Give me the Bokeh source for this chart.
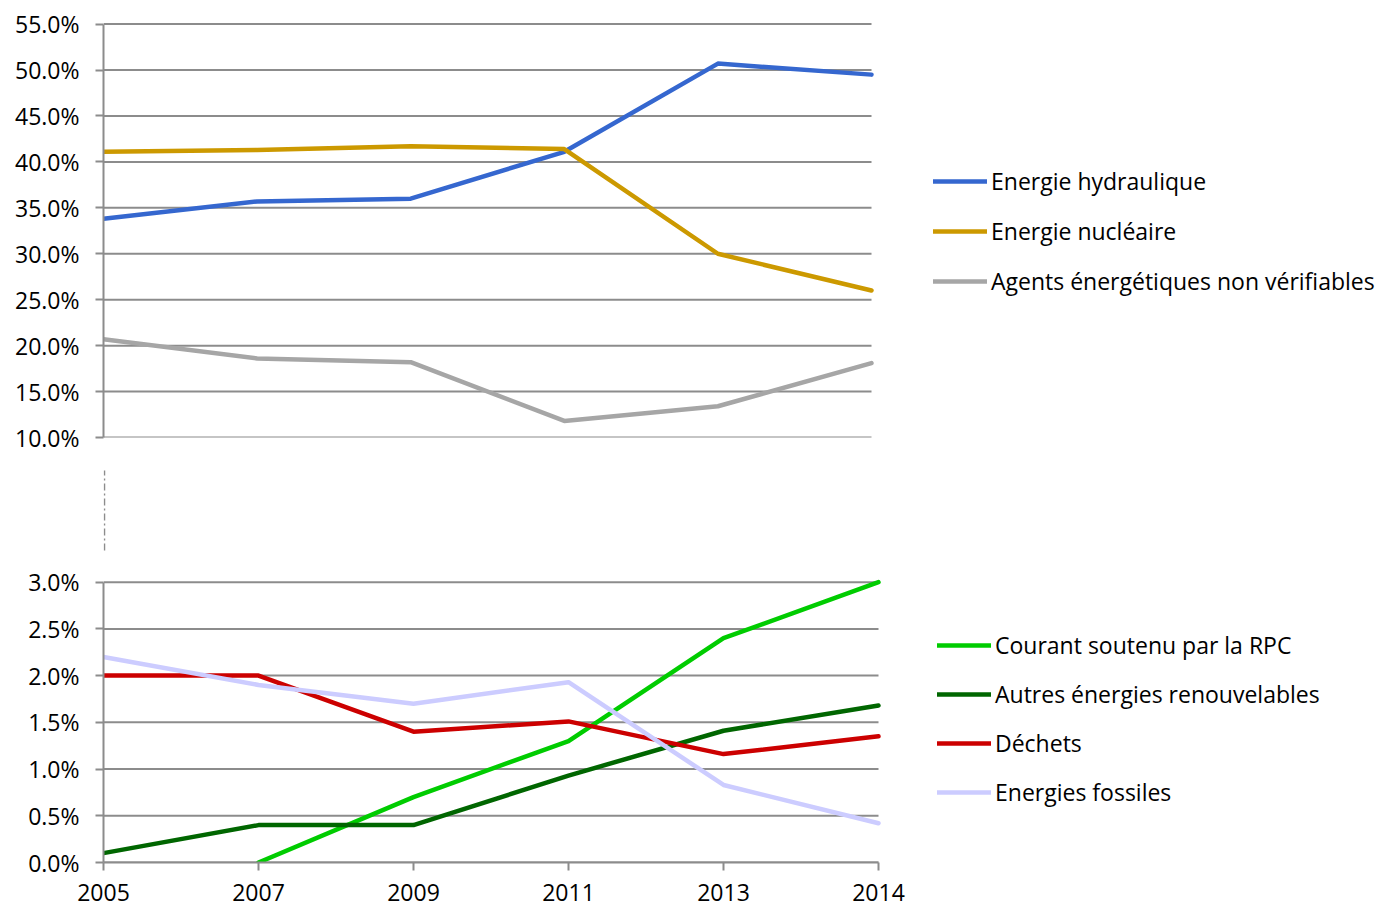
from bokeh.plotting import figure
from bokeh.models import Range1d, FixedTicker, Legend, LegendItem
from bokeh.layouts import column
from bokeh.embed import file_html
from bokeh.resources import INLINE

years = ["2005", "2007", "2009", "2011", "2013", "2014"]
nan = float("nan")

hydraulique = [33.8, 35.7, 36.0, 41.1, 50.7, 49.5]
nucleaire = [41.1, 41.3, 41.7, 41.4, 30.0, 26.0]
non_verif = [20.7, 18.6, 18.2, 11.8, 13.4, 18.1]

rpc = [nan, 0.0, 0.7, 1.3, 2.4, 3.0]
autres_ren = [0.1, 0.4, 0.4, 0.93, 1.41, 1.68]
dechets = [2.0, 2.0, 1.4, 1.51, 1.16, 1.35]
fossiles = [2.2, 1.9, 1.7, 1.93, 0.83, 0.42]

top_ticks = [10, 15, 20, 25, 30, 35, 40, 45, 50, 55]
bot_ticks = [0, 0.5, 1, 1.5, 2, 2.5, 3]

top_names = ["Energie hydraulique", "Energie nucléaire", "Agents énergétiques non vérifiables"]
top_colors = ["#3567CF", "#CC9900", "#A6A6A6"]
bot_names = ["Courant soutenu par la RPC", "Autres énergies renouvelables", "Déchets", "Energies fossiles"]
bot_colors = ["#00CC00", "#006600", "#CC0000", "#CCCCFF"]

xs = list(range(len(years)))
FONT = "Open Sans"
FS = "23px"
GRID = "#8C8C8C"
W = 1380
LB = 103  # left border (frames are aligned by the column)


def style_yaxis(p, ticks, lo, hi):
    ax = p.yaxis[0]
    ax.ticker = FixedTicker(ticks=ticks)
    ax.major_label_overrides = {t: f"{t:.1f}%" for t in ticks}
    ax.bounds = (lo, hi)
    ax.axis_line_color = GRID
    ax.axis_line_width = 2
    ax.major_tick_line_color = GRID
    ax.major_tick_line_width = 2
    ax.major_tick_out = 8
    ax.major_tick_in = 0
    ax.minor_tick_line_color = None
    ax.major_label_text_font = FONT
    ax.major_label_text_font_size = FS
    ax.major_label_text_color = "#000000"
    ax.major_label_standoff = 16
    p.ygrid.grid_line_color = None
    p.xgrid.grid_line_color = None
    p.outline_line_color = None
    # horizontal gridlines limited to the data span
    p.segment(x0=[xs[0]] * len(ticks), x1=[xs[-1]] * len(ticks), y0=ticks, y1=ticks,
              line_color=GRID, line_width=2)


def make_legend(p, renderers, names, loc, spacing):
    items = [LegendItem(label=n, renderers=[r]) for n, r in zip(names, renderers)]
    lg = Legend(items=items, location=loc, orientation="vertical")
    lg.glyph_width = 54
    lg.glyph_height = 32
    lg.label_height = 32
    lg.label_standoff = 4
    lg.spacing = spacing
    lg.padding = 0
    lg.margin = 0
    lg.border_line_color = None
    lg.background_fill_alpha = 0
    lg.label_text_font = FONT
    lg.label_text_font_size = FS
    lg.label_text_color = "#000000"
    p.add_layout(lg)


# ---- top panel ----
top = figure(width=W, height=455, output_backend="svg", toolbar_location=None,
             x_range=Range1d(0, (W - LB) * 5 / 768), y_range=Range1d(10, 55.5),
             x_axis_location=None, min_border_left=LB, min_border_right=0,
             min_border_top=19, min_border_bottom=18)
style_yaxis(top, top_ticks, 10, 55)
rs = []
for vals, c in zip([hydraulique, nucleaire, non_verif], top_colors):
    rs.append(top.line(xs, vals, line_color=c, line_width=4.5, line_join="round", line_cap="round"))
make_legend(top, rs, top_names, (830, 140), 18)

# ---- break marker ----
mid = figure(width=W, height=105, output_backend="svg", toolbar_location=None,
             x_range=Range1d(0, W - LB), y_range=Range1d(0, 105),
             x_axis_location=None, y_axis_location=None,
             min_border_left=LB, min_border_right=0, min_border_top=0, min_border_bottom=0)
mid.xgrid.grid_line_color = None
mid.ygrid.grid_line_color = None
mid.outline_line_color = None
mid.segment(x0=[1], y0=[10], x1=[1], y1=[90], line_color="#8C8C8C",
            line_width=1.5, line_dash="7 3 2 3")

# ---- bottom panel ----
bot = figure(width=W, height=348, output_backend="svg", toolbar_location=None,
             x_range=Range1d(0, (W - LB) * 5 / 775), y_range=Range1d(0, 3.05),
             min_border_left=LB, min_border_right=0,
             min_border_top=17, min_border_bottom=46)
style_yaxis(bot, bot_ticks, 0, 3)
xa = bot.xaxis[0]
xa.ticker = FixedTicker(ticks=xs)
xa.major_label_overrides = {i: y for i, y in zip(xs, years)}
xa.bounds = (0, 5)
xa.axis_line_color = GRID
xa.axis_line_width = 2
xa.major_tick_line_color = GRID
xa.major_tick_line_width = 2
xa.major_tick_out = 8
xa.major_tick_in = 0
xa.minor_tick_line_color = None
xa.major_label_text_font = FONT
xa.major_label_text_font_size = FS
xa.major_label_text_color = "#000000"
xa.major_label_standoff = 13
rs = []
for vals, c in zip([rpc, autres_ren, dechets, fossiles], bot_colors):
    rs.append(bot.line(xs, vals, line_color=c, line_width=4.5, line_join="round", line_cap="round"))
make_legend(bot, rs, bot_names, (834, 54), 17)

layout = column(top, mid, bot, spacing=0)
open("out.html", "w").write(file_html(layout, INLINE))
